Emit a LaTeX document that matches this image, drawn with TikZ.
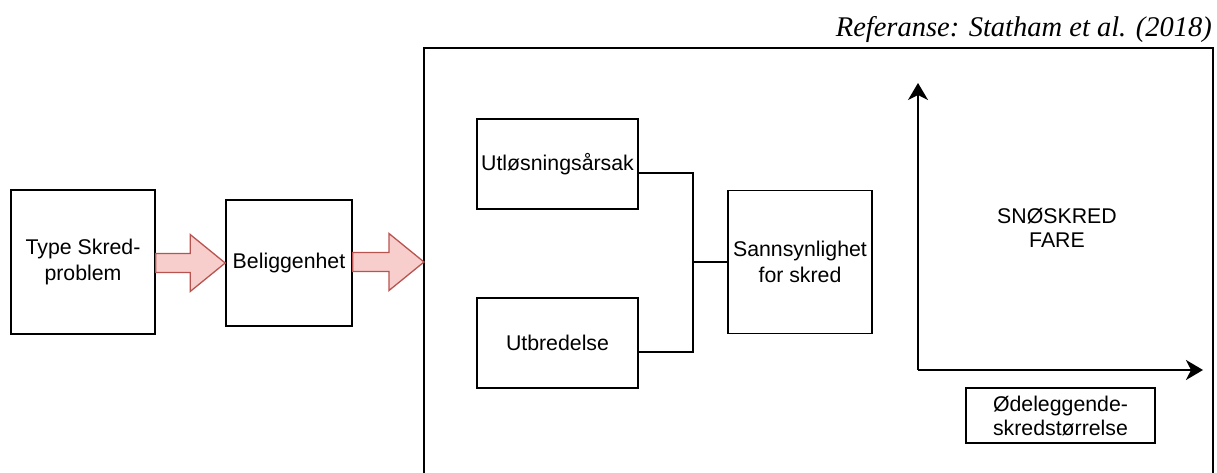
\documentclass[tikz,border=0pt]{standalone}
\usepackage{fontspec}
\setmainfont{Liberation Sans}
\newfontfamily\refserif{Liberation Serif}
\usetikzlibrary{calc,arrows.meta}
\definecolor{blockfill}{HTML}{F8CECC}
\definecolor{blockline}{HTML}{B85450}
\begin{document}
\begin{tikzpicture}[x=1pt,y=-1pt,
  box/.style={draw=black,line width=1.6pt,rectangle,align=center,inner sep=2pt,
    font=\fontsize{21.3}{26}\selectfont},
  blockarrow/.style={fill=blockfill,draw=blockline,line width=1.3pt,line join=miter},
  link/.style={draw=black,line width=1.6pt},
  axis/.style={draw=black,line width=1.6pt,-{Stealth[length=17pt,width=20pt,inset=5pt]}}]
\useasboundingbox (0,0) rectangle (1217,473);

% reference line
\node[anchor=base east,inner sep=0pt,font=\refserif\itshape\fontsize{28.5}{32}\selectfont] (ref) at (1212,37) {Referanse: Statham et al. (2018)};

% outer frame, open towards the bottom
\coordinate (frameL) at (424,262);
\draw[link] (424,480) -- (424,48) -- (1213,48) -- (1213,480);

% left chain
\node[box,minimum width=144pt,minimum height=144pt] (type) at (83,262) {Type Skred-\\problem};
\node[box,minimum width=126pt,minimum height=126pt] (bel) at (289,263) {Beliggenhet};

% block arrows
\path[blockarrow] let \p1=(type.east), \p2=(bel.west) in
  (\x1,\y2+9.5pt) -- (\x2-35pt,\y2+9.5pt) -- (\x2-35pt,\y2+28.5pt) -- (\x2,\y2)
  -- (\x2-35pt,\y2-28.5pt) -- (\x2-35pt,\y2-9.5pt) -- (\x1,\y2-9.5pt) -- cycle;
\path[blockarrow] let \p1=(bel.east), \p2=(frameL) in
  (\x1,\y2+9.5pt) -- (\x2-35pt,\y2+9.5pt) -- (\x2-35pt,\y2+28.5pt) -- (\x2,\y2)
  -- (\x2-35pt,\y2-28.5pt) -- (\x2-35pt,\y2-9.5pt) -- (\x1,\y2-9.5pt) -- cycle;

% factors and probability
\node[box,minimum width=161pt,minimum height=90pt] (utl) at (557.5,164) {Utløsningsårsak};
\node[box,minimum width=161pt,minimum height=90pt] (utb) at (557.5,343) {Utbredelse};
\node[box,minimum width=144pt,minimum height=143pt] (sann) at (800,262) {Sannsynlighet\\for skred};

\coordinate (join) at (693,262);
\draw[link] ([yshift=-9pt]utl.east) -| (join);
\draw[link] ([yshift=-9pt]utb.east) -| (join);
\draw[link] (join) -- (sann.west);

% hazard axes
\coordinate (origin) at (918,370);
\coordinate (ytip) at (918,83);
\coordinate (xtip) at (1203,370);
\draw[axis] (origin) -- (ytip);
\draw[axis] (origin) -- (xtip);
\node[align=center,font=\fontsize{21.3}{24}\selectfont] (fare) at (1057,228) {SNØSKRED\\FARE};
\node[box,minimum width=189pt,minimum height=55pt,font=\fontsize{21.3}{24}\selectfont] (size) at (1060.5,415.5) {Ødeleggende-\\skredstørrelse};
\end{tikzpicture}
\end{document}
